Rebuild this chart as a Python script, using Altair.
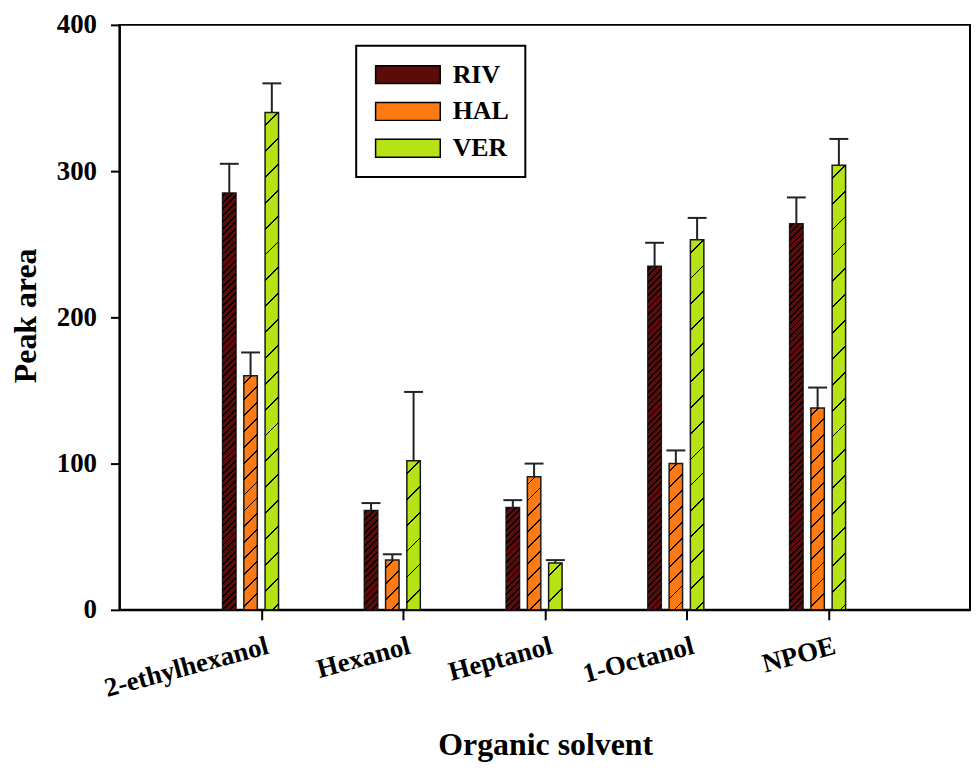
import json
import altair as alt
import pandas as pd

# ---- data ----
solvents = ["2-ethylhexanol", "Hexanol", "Heptanol", "1-Octanol", "NPOE"]
series = ["RIV", "HAL", "VER"]
riv = [285, 68, 70, 235, 264]
hal = [160, 34, 91, 100, 138]
ver = [340, 102, 32, 253, 304]
riv_err = [20, 5, 5, 16, 18]
hal_err = [16, 4, 9, 9, 14]
ver_err = [20, 47, 2, 15, 18]
y_ticks = [0, 100, 200, 300, 400]

values = {"RIV": riv, "HAL": hal, "VER": ver}
errors = {"RIV": riv_err, "HAL": hal_err, "VER": ver_err}

rows = []
for si, s in enumerate(series):
    for gi, name in enumerate(solvents):
        rows.append({"solvent": name, "series": s, "gi": gi + 1, "si": si,
                     "value": values[s][gi], "err": errors[s][gi]})
df = pd.DataFrame(rows)

# ---- styling / layout constants ----
FONT = "Liberation Serif"
colors = ["#5c0b0b", "#ff7a12", "#b5e315"]
hatch_period = {"RIV": 6.5, "HAL": 16, "VER": 26}
W, H = 855, 588
BAR_W = 0.095
offsets = [-0.225, -0.075, 0.075]
PX_X = W / 6.0
PX_Y = H / 400.0

xscale = alt.Scale(domain=[0, 6], nice=False, zero=False)
yscale = alt.Scale(domain=[0, 400], nice=False)

x_axis = alt.Axis(values=[1, 2, 3, 4, 5],
                  labelExpr=json.dumps(solvents) + "[datum.value - 1]",
                  tickSize=10, labelPadding=13, labelAngle=345,
                  labelAlign="right", labelBaseline="top", labelOffset=3,
                  labelFontSize=27, labelFlush=False, labelOverlap=False,
                  title="Organic solvent", titleFontSize=32,
                  titleX=428, titleY=135, titleAlign="center",
                  titleBaseline="middle")
y_axis = alt.Axis(values=y_ticks, tickSize=9, labelPadding=14,
                  labelFontSize=27, title="Peak area", titleFontSize=32,
                  titleAngle=270, titleX=-94, titleY=292,
                  titleAlign="center", titleBaseline="middle")

off_expr = json.dumps(offsets) + "[datum.si]"
base = alt.Chart(df).transform_calculate(
    xc=f"datum.gi + {off_expr}",
    x0=f"datum.gi + {off_expr} - {BAR_W / 2}",
    x1=f"datum.gi + {off_expr} + {BAR_W / 2}",
    top="datum.value + datum.err",
)

legend = alt.Legend(
    title=None, orient="none", legendX=238, legendY=21,
    symbolType="M-3.611,-1L3.611,-1L3.611,1L-3.611,1Z", symbolSize=324,
    symbolStrokeColor="black", symbolStrokeWidth=1.5, symbolOpacity=1,
    labelFont=FONT, labelFontSize=26, labelFontWeight="bold",
    labelColor="black", labelOffset=32, symbolOffset=23, rowPadding=11,
    padding=16, strokeColor="black",
)

bars = base.mark_bar(stroke="#1a1a1a", strokeWidth=1.5, opacity=1).encode(
    x=alt.X("x0:Q", scale=xscale, axis=x_axis),
    x2="x1:Q",
    y=alt.Y("value:Q", scale=yscale, axis=y_axis),
    y2=alt.datum(0),
    fill=alt.Fill("series:N", scale=alt.Scale(domain=series, range=colors),
                  sort=series, legend=legend),
)


def hatch(value, period, lw=1.3):
    w = BAR_W * PX_X
    h = value * PX_Y
    F = w + h
    c = F / (w * w + h * h)
    d = lw * 0.7071
    clear = "rgba(0,0,0,0)"
    stops = [{"offset": 0, "color": clear}]
    f = period / 2.0
    while f < F:
        a = round(max(0.0, (f - d) / F), 5)
        b = round(min(1.0, (f + d) / F), 5)
        stops += [{"offset": a, "color": clear},
                  {"offset": a, "color": "black"},
                  {"offset": b, "color": "black"},
                  {"offset": b, "color": clear}]
        f += period
    stops.append({"offset": 1, "color": clear})
    return {"gradient": "linear", "x1": 0, "y1": 0,
            "x2": round(c * w, 6), "y2": round(c * h, 6), "stops": stops}


layers = [bars]
for r in rows:
    g = hatch(r["value"], hatch_period[r["series"]])
    layers.append(
        base.transform_filter(
            f"datum.gi == {r['gi']} && datum.si == {r['si']}"
        ).mark_bar(fill=g, strokeWidth=0).encode(
            x=alt.X("x0:Q", scale=xscale, axis=x_axis),
            x2="x1:Q",
            y=alt.Y("value:Q", scale=yscale, axis=y_axis),
            y2=alt.datum(0),
        )
    )

err_rule = base.mark_rule(color="#222222", strokeWidth=2).encode(
    x=alt.X("xc:Q", scale=xscale, axis=x_axis),
    y=alt.Y("value:Q", scale=yscale, axis=y_axis),
    y2="top:Q",
)
err_cap = base.mark_tick(orient="horizontal", color="#222222", size=19,
                         thickness=2, opacity=1).encode(
    x=alt.X("xc:Q", scale=xscale, axis=x_axis),
    y=alt.Y("top:Q", scale=yscale, axis=y_axis),
)
layers += [err_rule, err_cap]

chart = alt.layer(*layers).properties(
    width=W, height=H,
    autosize=alt.AutoSizeParams(type="none"),
    padding={"left": 112, "top": 15, "right": 2, "bottom": 152},
    background="white",
).configure_view(stroke="black", strokeWidth=2).configure_axis(
    domainColor="black", domainWidth=2, tickColor="black", tickWidth=2,
    labelFont=FONT, labelFontWeight="bold", labelColor="black",
    titleFont=FONT, titleFontWeight="bold", titleColor="black", grid=False,
)

try:
    chart.configure_legend(strokeWidth=2).save(
        "out.html", embed_options={"renderer": "svg", "actions": False})
except Exception:
    chart.save("out.html", embed_options={"renderer": "svg", "actions": False})
